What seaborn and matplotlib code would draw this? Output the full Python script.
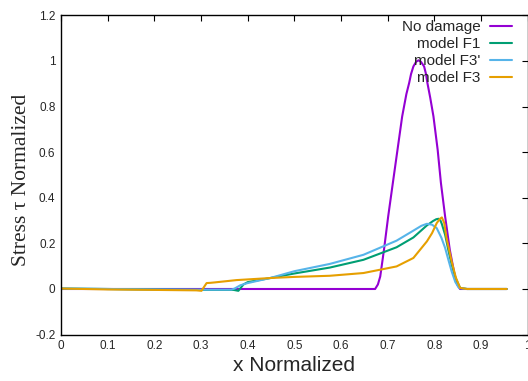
import matplotlib
matplotlib.use("Agg")
import matplotlib.pyplot as plt
import pandas as pd
import seaborn as sns

# values
xNoDamage = [0, 0.3, 0.6, 0.673, 0.679, 0.684, 0.692, 0.701, 0.711, 0.721, 0.731, 0.740,
             0.746, 0.750, 0.755, 0.761, 0.766, 0.771, 0.778, 0.782, 0.785, 0.791, 0.798,
             0.807, 0.814, 0.823, 0.833, 0.844, 0.85, 0.855, 0.87, 0.955]
yNoDamage = [0, 0, 0, 0, 0.02, 0.055, 0.172, 0.318, 0.465, 0.611, 0.757, 0.855,
             0.904, 0.943, 0.976, 0.997, 1.003, 0.997, 0.976, 0.943, 0.904, 0.84, 0.757,
             0.611, 0.465, 0.318, 0.172, 0.055, 0.015, 0, 0, 0]

xF1 = [0, 0.1, 0.2, 0.3, 0.37, 0.38, 0.391, 0.40, 0.448, 0.5, 0.576, 0.648, 0.719, 0.755,
       0.784, 0.797, 0.804, 0.809, 0.813, 0.816, 0.823, 0.83, 0.837, 0.846, 0.855, 0.87,
       0.955]
yF1 = [0.002, 0, -0.002, -0.004, -0.004, -0.008, 0.02, 0.03, 0.048, 0.068, 0.094, 0.128,
       0.183, 0.226, 0.279, 0.298, 0.306, 0.308, 0.30, 0.285, 0.238, 0.17, 0.107, 0.045,
       0.005, 0, 0]

xF3p = [0, 0.1, 0.2, 0.3, 0.365, 0.372, 0.384, 0.398, 0.448, 0.5, 0.576, 0.648, 0.719,
        0.755, 0.772, 0.784, 0.795, 0.805, 0.815, 0.823, 0.83, 0.837, 0.845, 0.853, 0.87,
        0.955]
yF3p = [0.002, 0, -0.002, -0.003, -0.003, 0.002, 0.016, 0.025, 0.048, 0.078, 0.11, 0.150,
        0.212, 0.256, 0.277, 0.286, 0.282, 0.267, 0.225, 0.180, 0.128, 0.077, 0.03, 0.004,
        0, 0]

xF3 = [0, 0.1, 0.2, 0.29, 0.301, 0.312, 0.32, 0.33, 0.376, 0.448, 0.5, 0.576, 0.648,
       0.719, 0.755, 0.784, 0.795, 0.805, 0.812, 0.816, 0.821, 0.826, 0.837, 0.846, 0.855,
       0.87, 0.955]
yF3 = [0.002, -0.002, -0.004, -0.006, -0.008, 0.026, 0.027, 0.029, 0.039, 0.048, 0.053,
       0.058, 0.070, 0.099, 0.136, 0.209, 0.245, 0.289, 0.308, 0.314, 0.29, 0.224, 0.121,
       0.05, 0.005, 0, 0]

seriesNames = ["No damage", "model F1", "model F3'", "model F3"]
seriesColors = ["#9400d3", "#009e73", "#56b4e9", "#e69f00"]
xTicks = [0, 0.1, 0.2, 0.3, 0.4, 0.5, 0.6, 0.7, 0.8, 0.9, 1]
yTicks = [-0.2, 0, 0.2, 0.4, 0.6, 0.8, 1, 1.2]


def main():
    sns.set_theme(style="white")
    plt.rcParams["font.family"] = ["Liberation Sans", "DejaVu Sans"]

    frames = []
    for name, xs, ys in zip(seriesNames,
                            [xNoDamage, xF1, xF3p, xF3],
                            [yNoDamage, yF1, yF3p, yF3]):
        frames.append(pd.DataFrame({"x": xs, "y": ys, "series": name}))
    df = pd.concat(frames, ignore_index=True)

    fig = plt.figure(figsize=(5.28, 3.81), dpi=100)
    ax = fig.add_axes([0.1155, 0.1218, 0.8840, 0.8378])

    sns.lineplot(data=df, x="x", y="y", hue="series", hue_order=seriesNames,
                 palette=dict(zip(seriesNames, seriesColors)), estimator=None,
                 sort=False, linewidth=1.5, ax=ax)

    ax.set_xlim(0, 1)
    ax.set_ylim(-0.2, 1.2)
    ax.set_xticks(xTicks)
    ax.set_yticks(yTicks)
    ax.set_xticklabels([f"{t:g}" for t in xTicks])
    ax.set_yticklabels([f"{t:g}" for t in yTicks])
    ax.tick_params(axis="both", which="both", direction="in", length=4, width=0.8,
                   top=True, right=True, labelsize=8.5, color="black", pad=4)
    for s in ax.spines.values():
        s.set_color("black")
        s.set_linewidth(1.0)

    ax.set_xlabel("x Normalized", fontsize=15, labelpad=3)
    ax.set_ylabel("Stress \u03c4 Normalized", fontsize=15.5,
                  family=["Liberation Serif", "DejaVu Serif"])
    ax.yaxis.set_label_coords(-0.064, 0.484)

    # markerfirst=False right-aligns the labels next to the line samples
    leg = ax.legend(loc="upper right", bbox_to_anchor=(0.966, 0.985),
                    markerfirst=False, frameon=False, fontsize=11,
                    handlelength=1.4, handletextpad=0.63, labelspacing=0.19,
                    borderaxespad=0, borderpad=0)
    for line in leg.get_lines():
        line.set_linewidth(1.5)

    fig.savefig("out.png", dpi=100)


if __name__ == "__main__":
    main()
